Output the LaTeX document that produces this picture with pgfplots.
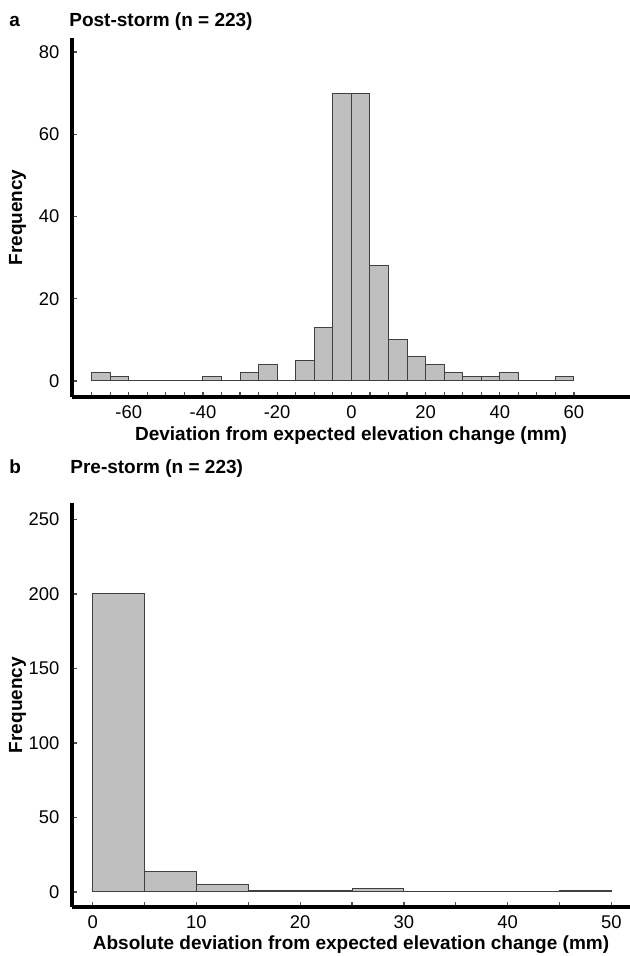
\documentclass[border=0pt]{standalone}
\usepackage{fontspec}
\setmainfont{Liberation Sans}
\usepackage{pgfplots}
\pgfplotsset{compat=1.18}

\pgfplotsset{
  histo/.style={
    scale only axis,
    anchor=north west,
    width=279pt,
    axis x line*=bottom, axis y line*=left,
    axis line style={line width=1.6pt, black},
    tick align=inside,
    major tick length=2.5pt, minor tick length=2.5pt,
    every tick/.style={black!70, line width=0.6pt},
    /pgf/number format/assume math mode=true,
    tick label style={font=\fontsize{9.2}{11}\selectfont},
    label style={font=\fontsize{9.5}{11}\selectfont\bfseries},
    yticklabel style={xshift=-2.8pt},
    xticklabel style={yshift=-1pt},
    xlabel style={at={(axis description cs:0.5,0)}, anchor=base, yshift=-21.5pt},
    ylabel style={at={(axis description cs:-0.0977,0.5)}, anchor=center},
    clip=false,
  },
  bars/.style={ybar interval, fill=gray!50, draw=black!75, line width=0.5pt},
}

\begin{document}
\begin{tikzpicture}
\useasboundingbox (0,0) rectangle (315pt,-478pt);

\tikzset{ttl/.style={anchor=base west, inner sep=0pt, font=\fontsize{9.5}{11}\selectfont\bfseries}}
\node[ttl] at (4.5pt,-13.5pt) {a};
\node[ttl] at (34.5pt,-13.5pt) {Post-storm (n = 223)};
\node[ttl] at (4.5pt,-236.5pt) {b};
\node[ttl] at (35pt,-236.5pt) {Pre-storm (n = 223)};

% a: post-storm deviations, 5 mm bins
\begin{axis}[histo,
    at={(36pt,-19pt)}, height=179.5pt,
    xmin=-75.3, xmax=75.1, ymin=-3.9, ymax=83.4,
    xtick={-60,-40,...,60}, minor xtick={-70,-65,...,60},
    ytick={0,20,...,80},
    xlabel={Deviation from expected elevation change (mm)},
    ylabel={Frequency},
]
\addplot[bars] coordinates {
  (-70,2) (-65,1) (-60,0) (-55,0) (-50,0) (-45,0) (-40,1) (-35,0)
  (-30,2) (-25,4) (-20,0) (-15,5) (-10,13) (-5,70) (0,70) (5,28)
  (10,10) (15,6) (20,4) (25,2) (30,1) (35,1) (40,2) (45,0) (50,0)
  (55,1) (60,0)
};
\end{axis}

% b: pre-storm absolute deviations
\begin{axis}[histo,
    at={(36pt,-251.5pt)}, height=202pt,
    xmin=-2.0, xmax=51.8, ymin=-10.1, ymax=261,
    xtick={0,10,...,50}, minor xtick={0,5,...,50},
    ytick={0,50,...,250},
    xlabel={Absolute deviation from expected elevation change (mm)},
    ylabel={Frequency},
    xlabel style={yshift=0.5pt},
]
\addplot[bars] coordinates {
  (0,200) (5,14) (10,5) (15,1) (20,1) (25,2) (30,0) (35,0) (40,0)
  (45,1) (50,0)
};
\end{axis}
\end{tikzpicture}
\end{document}
